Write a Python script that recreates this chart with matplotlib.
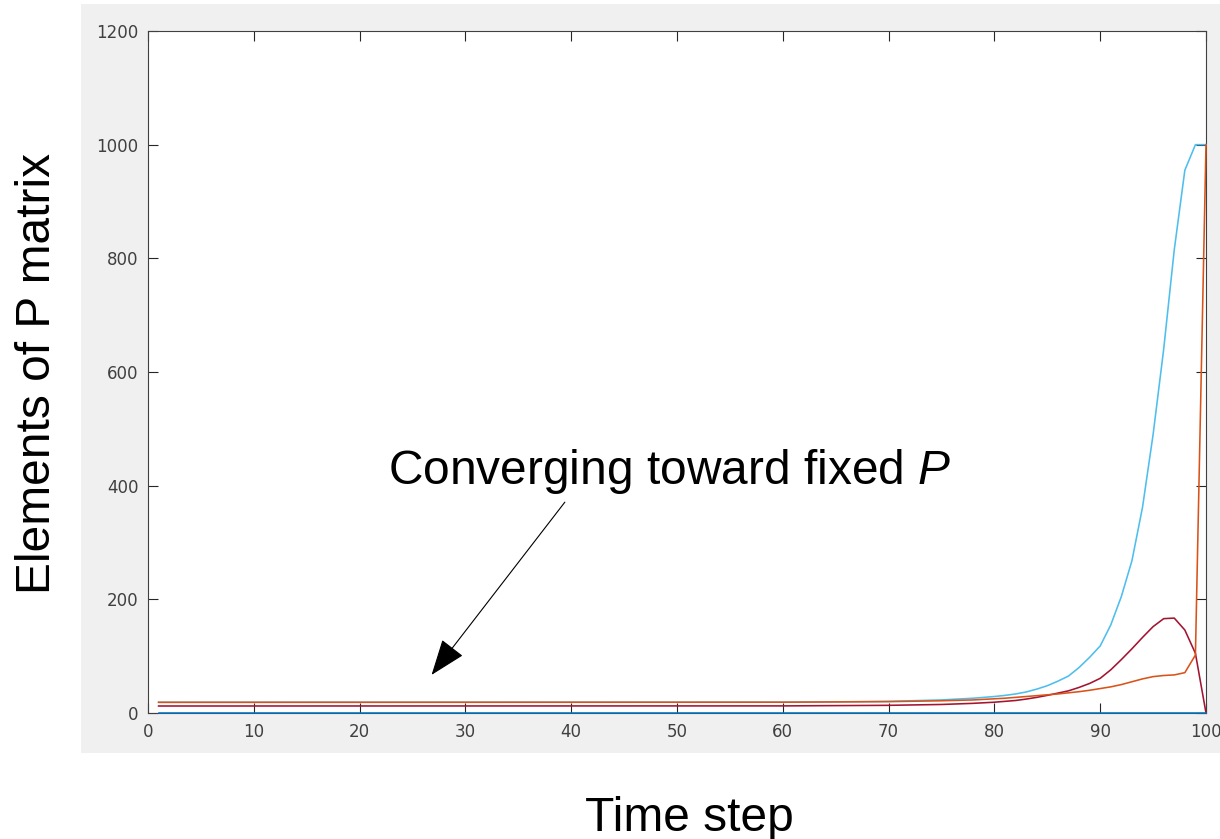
import matplotlib
matplotlib.use('Agg')
import matplotlib.pyplot as plt
from matplotlib.patches import Rectangle

# Time steps (dense near the end where the recursion blows up)
steps = [1, 60, 65, 70, 75, 78, 80, 81, 82, 83, 84, 85, 86, 87, 88, 89,
         90, 91, 92, 93, 94, 95, 96, 97, 98, 99, 100]

# Elements of P
p_zero = [0] * len(steps)
p_cyan = [18.8, 19, 19.6, 20.5, 23, 26, 29, 31, 33.5, 37, 42, 48, 56, 65,
          80, 98, 118, 155, 205, 268, 362, 490, 640, 815, 955, 1000, 1000]
p_red = [12.3, 12.5, 13, 13.5, 15, 17, 19, 20.5, 22, 24.5, 27.5, 31, 35, 39,
         45, 52, 61, 76, 94, 113, 133, 152, 166, 167, 146, 105, 0]
p_orange = [18.8, 19, 19.5, 20, 21.5, 23, 25, 26, 27.5, 29, 30.5, 32, 33.5,
            35.5, 37.5, 40, 43, 46, 50, 55, 60, 64, 66, 67, 71, 102, 1000]

x_ticks = list(range(0, 101, 10))
y_ticks = list(range(0, 1201, 200))

plt.rcParams['mathtext.fontset'] = 'custom'
plt.rcParams['mathtext.rm'] = 'Liberation Sans'
plt.rcParams['mathtext.it'] = 'Liberation Sans:italic'

W, H = 1220, 839
fig = plt.figure(figsize=(W / 100, H / 100), dpi=100)
fig.patch.set_facecolor('white')

# MATLAB-style grey figure panel
fig.patches.append(Rectangle((81 / W, (H - 753) / H), 1 - 81 / W, (753 - 4) / H,
                             transform=fig.transFigure, facecolor='#f0f0f0',
                             edgecolor='none', zorder=-10))

ax = fig.add_axes([148 / W, (H - 713) / H, 1058 / W, 682 / H])
ax.set_facecolor('white')

line_kw = dict(linewidth=1.15, clip_on=False, zorder=3)
ax.plot(steps, p_cyan, color='#4DBEEE', **line_kw)
ax.plot(steps, p_red, color='#A2142F', **line_kw)
ax.plot(steps, p_orange, color='#D95319', **line_kw)
ax.plot(steps, p_zero, color='#0072BD', **line_kw)

ax.set_xlim(0, 100)
ax.set_ylim(0, 1200)
ax.set_xticks(x_ticks)
ax.set_yticks(y_ticks)
ax.tick_params(direction='in', length=7, width=0.8, colors='#262626',
               labelcolor='#404040', labelsize=12, pad=7, top=True, right=True)
for sp in ax.spines.values():
    sp.set_color('#404040')
    sp.set_linewidth(0.8)

# Annotation
ax.annotate('', xy=(26.8, 67), xytext=(39.4, 371),
            arrowprops=dict(arrowstyle='-|>,head_length=2.3,head_width=0.85',
                            mutation_scale=10, color='black', lw=0.8,
                            shrinkA=0, shrinkB=0))
ax.text(22.7, 403, 'Converging toward fixed $P$', fontsize=34.5,
        family='Liberation Sans', ha='left', va='baseline')

# Axis labels placed outside the grey panel
fig.text(689 / W, (H - 831) / H, 'Time step', fontsize=34.5,
         family='Liberation Sans', ha='center', va='baseline')
fig.text(50 / W, (H - 373) / H, 'Elements of P matrix', fontsize=34.5,
         family='Liberation Sans', ha='center', va='baseline',
         rotation=90, rotation_mode='anchor')

fig.savefig('out.png', dpi=100)
